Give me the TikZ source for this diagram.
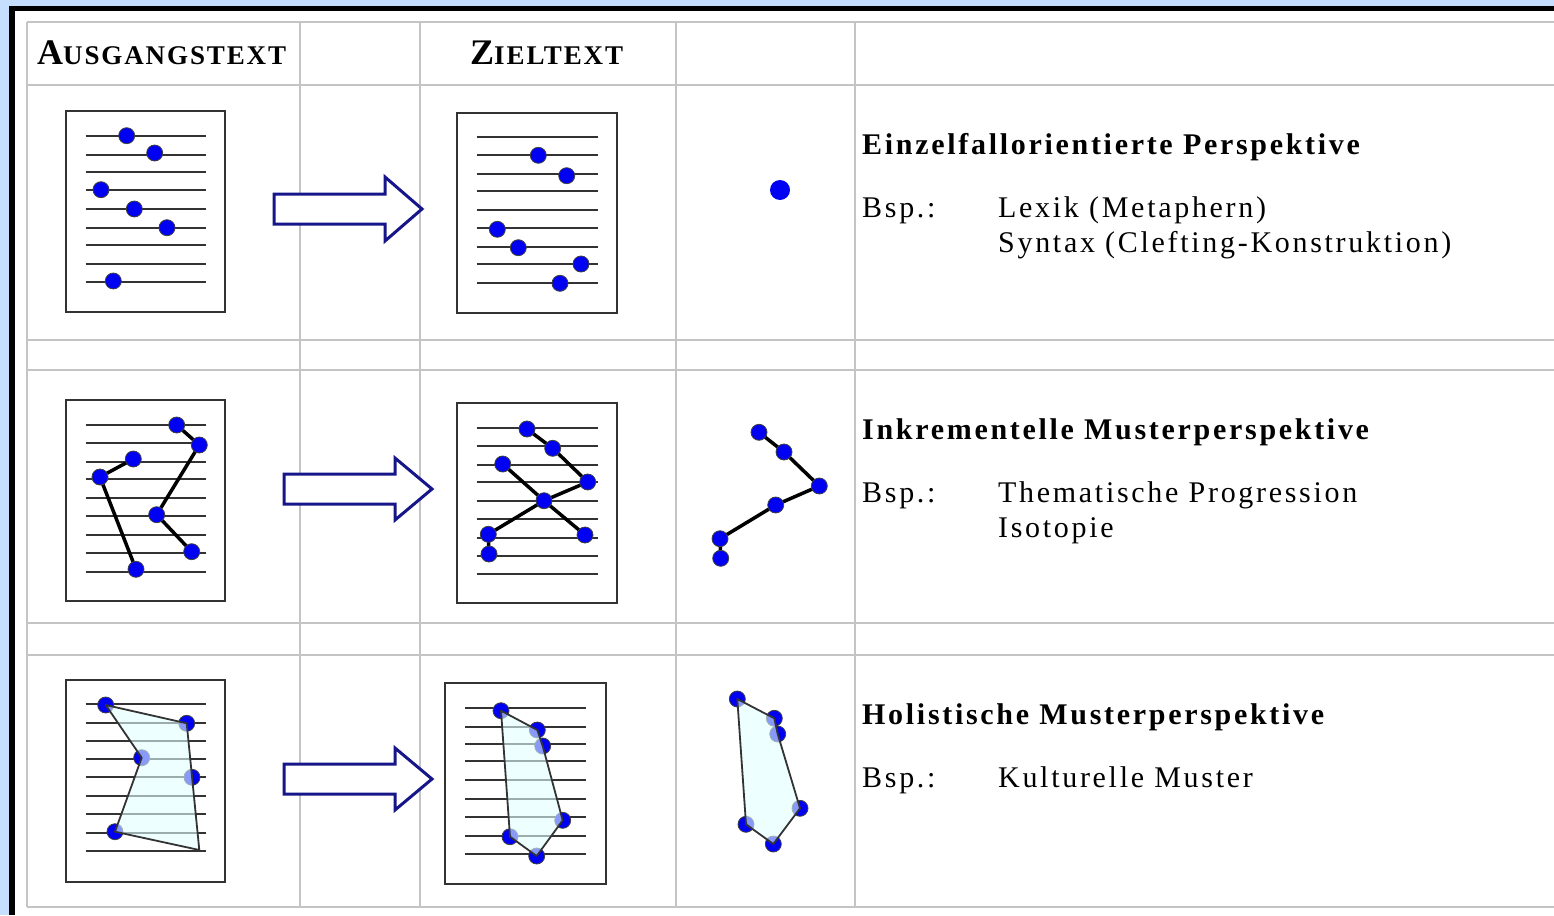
\documentclass[tikz,border=0pt]{standalone}
\usepackage{fontspec}
\setmainfont{Liberation Serif}
\newfontfamily\spacedserif[LetterSpace=9]{Liberation Serif}
\newfontfamily\capsserif[LetterSpace=7]{Liberation Serif}
\definecolor{bgblue}{HTML}{C6DFFF}
\definecolor{gridgray}{HTML}{C4C4C4}
\definecolor{ink}{HTML}{333333}
\definecolor{navyarrow}{HTML}{16168A}
\definecolor{dotblue}{HTML}{0000F2}
\definecolor{hullfill}{HTML}{E2FFFF}
\newcommand\titlestyle{\spacedserif\bfseries\fontsize{30}{36}\selectfont}
\newcommand\bodystyle{\spacedserif\fontsize{30}{36}\selectfont}
\begin{document}
\begin{tikzpicture}[x=1pt,y=-1pt,
  gridline/.style={draw=gridgray,line width=2pt},
  paper/.style={draw=ink,line width=2pt,fill=white,inner sep=0pt},
  rule/.style={draw=ink,line width=1.8pt},
  dot/.style={circle,fill=dotblue,draw=black!75,line width=0.8pt,minimum size=16pt,inner sep=0pt},
  bigdot/.style={circle,fill=dotblue,minimum size=20pt,inner sep=0pt},
  link/.style={draw=black,line width=3.5pt},
  hull/.style={fill=hullfill,fill opacity=0.6,draw=ink,line width=1.8pt,line join=round},
  bigarrow/.style={draw=navyarrow,line width=3pt,fill=white,line join=miter},
  txt/.style={anchor=base west,inner sep=0pt}]
\useasboundingbox (0,0) rectangle (1554,915);

% window frame
\fill[bgblue] (0,0) rectangle (1554,915);
\fill[black] (9,6) rectangle (1554,915);
\fill[white] (15,11) rectangle (1554,915);

% table grid
\foreach \y in {22,85,340,370,623,655,907} \draw[gridline] (27,\y) -- (1554,\y);
\foreach \x in {27,300,420,676,855} \draw[gridline] (\x,22) -- (\x,907);

% column headings
\node[txt] (hsrc) at (37,65) {\capsserif\bfseries{\fontsize{36}{40}\selectfont A}{\fontsize{27}{30}\selectfont USGANGSTEXT}};
\node[txt] (htgt) at (470,65) {\capsserif\bfseries{\fontsize{36}{40}\selectfont Z}{\fontsize{27}{30}\selectfont IELTEXT}};

% ---------- row 1: single points ----------
\node[paper,minimum width=159pt,minimum height=201pt] (srcA) at (145.5,211.5) {};
\foreach \y in {135.7,154.7,172,189.7,208.7,227.7,245.3,264.3,282} \draw[rule] (85.7,\y) -- (205.7,\y);
\foreach \p/\q in {126.7/135.7,154.7/153,101/189.7,134.3/209,167/227.7,113.3/281} \node[dot] at (\p,\q) {};

\node[paper,minimum width=160pt,minimum height=200pt] (tgtA) at (537.3,212.7) {};
\foreach \y in {137.3,154.7,173.7,191.3,210,227.7,246.7,264.3,283.3} \draw[rule] (476.7,\y) -- (598.3,\y);
\foreach \p/\q in {538.3/155.3,566.7/175.7,497.3/229.3,518.3/247.7,581/264,560/283.3} \node[dot] at (\p,\q) {};

\draw[bigarrow] (274,194) -- (385,194) -- (385,177) -- (422,209) -- (385,241) -- (385,224) -- (274,224) -- cycle;
\node[bigdot] (single) at (780,190) {};

\node[txt] (titleA) at (862,154) {\titlestyle Einzelfallorientierte Perspektive};
\node[txt] (bspA) at (862,217) {\bodystyle Bsp.:};
\node[txt] (exA1) at (998,217) {\bodystyle Lexik (Metaphern)};
\node[txt] (exA2) at (998,252) {\bodystyle Syntax (Clefting-Konstruktion)};

% ---------- row 2: incremental chains ----------
\node[paper,minimum width=159pt,minimum height=200.7pt] (srcB) at (145.5,500.3) {};
\foreach \y in {425,442.7,461.7,479.3,498.3,516,535,552.7,571.7} \draw[rule] (85.7,\y) -- (205.7,\y);
\coordinate (b1) at (176.7,425);
\coordinate (b2) at (199.3,445);
\coordinate (b3) at (156.7,514.7);
\coordinate (b4) at (191.7,551.7);
\coordinate (b5) at (133.3,459);
\coordinate (b6) at (100,477);
\coordinate (b7) at (136,569.3);
\draw[link] (b1) -- (b2) -- (b3) -- (b4);
\draw[link] (b5) -- (b6) -- (b7);
\foreach \c in {b1,b2,b3,b4,b5,b6,b7} \node[dot] at (\c) {};

\node[paper,minimum width=160pt,minimum height=200pt] (tgtB) at (537.3,503.3) {};
\foreach \y in {428.3,445.7,464.7,482.3,501,518.7,537.7,555.7,574.3} \draw[rule] (476.7,\y) -- (598.3,\y);
\coordinate (c1) at (527,429);
\coordinate (c2) at (552.7,448.3);
\coordinate (c3) at (587.7,482);
\coordinate (c4) at (544,500.7);
\coordinate (c5) at (488.3,534.3);
\coordinate (c6) at (489,554);
\coordinate (c7) at (502.7,464);
\coordinate (c8) at (585,535);
\draw[link] (c1) -- (c2) -- (c3) -- (c4) -- (c5) -- (c6);
\draw[link] (c7) -- (c4) -- (c8);
\foreach \c in {c1,c2,c3,c4,c5,c6,c7,c8} \node[dot] at (\c) {};

\draw[bigarrow] (284,474) -- (395,474) -- (395,458) -- (432,489) -- (395,520) -- (395,504) -- (284,504) -- cycle;

\coordinate (d1) at (759,432.3);
\coordinate (d2) at (784,452);
\coordinate (d3) at (819.3,486);
\coordinate (d4) at (775.7,505);
\coordinate (d5) at (720,538.7);
\coordinate (d6) at (720.7,558.3);
\draw[link] (d1) -- (d2) -- (d3) -- (d4) -- (d5) -- (d6);
\foreach \c in {d1,d2,d3,d4,d5,d6} \node[dot] at (\c) {};

\node[txt] (titleB) at (862,439) {\titlestyle Inkrementelle Musterperspektive};
\node[txt] (bspB) at (862,502) {\bodystyle Bsp.:};
\node[txt] (exB1) at (998,502) {\bodystyle Thematische Progression};
\node[txt] (exB2) at (998,537) {\bodystyle Isotopie};

% ---------- row 3: holistic hulls ----------
\node[paper,minimum width=159pt,minimum height=202pt] (srcC) at (145.5,780.5) {};
\foreach \y in {704,723.3,741,758.7,777.3,796.3,814,833,850.7} \draw[rule] (85.7,\y) -- (205.7,\y);
\coordinate (e1) at (105.7,705);
\coordinate (e2) at (186.7,723.3);
\coordinate (e3) at (199.3,850);
\coordinate (e4) at (115,831.7);
\coordinate (e5) at (141.7,757.7);
\coordinate (e6) at (192,777.3);
\foreach \c in {e1,e2,e4,e5,e6} \node[dot] at (\c) {};
\draw[hull] (e1) -- (e2) -- (e3) -- (e4) -- (e5) -- cycle;

\node[paper,minimum width=160.7pt,minimum height=201.6pt] (tgtC) at (525.3,783.5) {};
\foreach \y in {707.7,726.7,744,761.3,780.3,799.3,817,836,853.7} \draw[rule] (465,\y) -- (586,\y);
\coordinate (f1) at (501,710.7);
\coordinate (f2) at (537.3,730);
\coordinate (f3) at (542.7,746);
\coordinate (f4) at (562.7,820.3);
\coordinate (f5) at (536.7,856);
\coordinate (f6) at (510,836.7);
\foreach \c in {f1,f2,f3,f4,f5,f6} \node[dot] at (\c) {};
\draw[hull] (f1) -- (f2) -- (f3) -- (f4) -- (f5) -- (f6) -- cycle;

\draw[bigarrow] (284,764) -- (395,764) -- (395,748) -- (432,779) -- (395,810) -- (395,794) -- (284,794) -- cycle;

\coordinate (g1) at (737.3,699);
\coordinate (g2) at (774.3,718.3);
\coordinate (g3) at (777.7,734);
\coordinate (g4) at (800,808.3);
\coordinate (g5) at (773.3,844);
\coordinate (g6) at (746,824.3);
\foreach \c in {g1,g2,g3,g4,g5,g6} \node[dot] at (\c) {};
\draw[hull] (g1) -- (g2) -- (g3) -- (g4) -- (g5) -- (g6) -- cycle;

\node[txt] (titleC) at (862,724) {\titlestyle Holistische Musterperspektive};
\node[txt] (bspC) at (862,787) {\bodystyle Bsp.:};
\node[txt] (exC1) at (998,787) {\bodystyle Kulturelle Muster};
\end{tikzpicture}
\end{document}
